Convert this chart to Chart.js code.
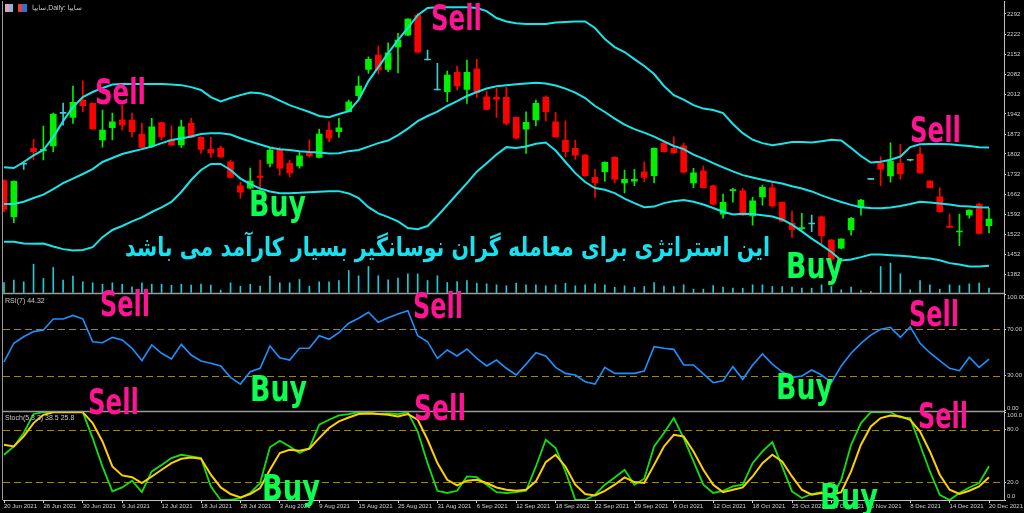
<!DOCTYPE html>
<html><head><meta charset="utf-8">
<script src="https://cdn.jsdelivr.net/npm/chart.js@4.4.1/dist/chart.umd.min.js"></script>
<style>
html,body{margin:0;padding:0;background:#000;width:1024px;height:513px;overflow:hidden}
#wrap{position:relative;width:1024px;height:513px;background:#000}
#c{position:absolute;left:0;top:0}
.ov{position:absolute;white-space:nowrap;transform-origin:0 0;line-height:1}
.sig{font-family:'DejaVu Sans';font-weight:bold;font-size:36px}
.sell{color:#ff1493}
.buy{color:#0cff50}
.fa{font-family:'DejaVu Sans';font-weight:bold;font-size:26px;color:#18e2f0;direction:rtl}
.small{font-family:'Liberation Sans','DejaVu Sans';font-size:7px;color:#c8c8c8}
.ico{position:absolute;top:4px;height:8px}
</style></head>
<body><div id="wrap">
<canvas id="c" width="1024" height="513"></canvas>
<div class="ico" style="left:5px;width:8px;background:linear-gradient(90deg,#e8a0a8 50%,#8fb0e0 50%)"></div>
<div class="ico" style="left:18px;width:9px;background:linear-gradient(90deg,#e04040 50%,#3070d0 50%)"></div>
<div class="ov small" style="left:32px;top:4px">سایپا,Daily:  سایپا</div>
<div class="ov small" style="left:5px;top:297px">RSI(7) 44.32</div>
<div class="ov small" style="left:5px;top:414px">Stoch(5,3,3) 38.5 25.8</div>
<div class="ov fa" data-w="645" style="left:125px;top:234px">این استراتژی برای معامله گران نوسانگیر بسیار کارآمد می باشد</div>
</div>
<script>
// ---------- data ----------
const dates = ["20 Jun 2021","21 Jun 2021","22 Jun 2021","23 Jun 2021","26 Jun 2021","27 Jun 2021","28 Jun 2021","29 Jun 2021","30 Jun 2021","3 Jul 2021",
"4 Jul 2021","5 Jul 2021","6 Jul 2021","7 Jul 2021","10 Jul 2021","11 Jul 2021","12 Jul 2021","13 Jul 2021","14 Jul 2021","17 Jul 2021",
"18 Jul 2021","19 Jul 2021","20 Jul 2021","27 Jul 2021","28 Jul 2021","31 Jul 2021","1 Aug 2021","2 Aug 2021","3 Aug 2021","4 Aug 2021",
"7 Aug 2021","8 Aug 2021","9 Aug 2021","10 Aug 2021","11 Aug 2021","14 Aug 2021","15 Aug 2021","16 Aug 2021","17 Aug 2021","24 Aug 2021",
"25 Aug 2021","28 Aug 2021","29 Aug 2021","30 Aug 2021","31 Aug 2021","1 Sep 2021","4 Sep 2021","5 Sep 2021","6 Sep 2021","7 Sep 2021",
"8 Sep 2021","11 Sep 2021","12 Sep 2021","13 Sep 2021","14 Sep 2021","15 Sep 2021","18 Sep 2021","19 Sep 2021","20 Sep 2021","21 Sep 2021",
"22 Sep 2021","25 Sep 2021","26 Sep 2021","28 Sep 2021","29 Sep 2021","2 Oct 2021","3 Oct 2021","4 Oct 2021","6 Oct 2021","9 Oct 2021",
"10 Oct 2021","11 Oct 2021","12 Oct 2021","13 Oct 2021","16 Oct 2021","17 Oct 2021","18 Oct 2021","19 Oct 2021","20 Oct 2021","24 Oct 2021",
"25 Oct 2021","26 Oct 2021","27 Oct 2021","30 Oct 2021","31 Oct 2021","1 Nov 2021","2 Nov 2021","3 Nov 2021","6 Nov 2021","5 Dec 2021",
"6 Dec 2021","7 Dec 2021","8 Dec 2021","11 Dec 2021","12 Dec 2021","13 Dec 2021","14 Dec 2021","15 Dec 2021","18 Dec 2021","19 Dec 2021",
"20 Dec 2021"];
const open = [1709,1583,1766,1822,1814,1830,1944,1930,1991,1979, 1851,1894,1921,1921,1872,1830,1912,1851,1834,1909,
1860,1818,1823,1775,1691,1682,1725,1769,1818,1769, 1760,1804,1790,1886,1880,1950,2006,2098,2148,2098,
2177,2218,2288,2131,2026,2020,2088,2028,2099,2002, 2000,2000,1930,1889,1921,2000,1915,1851,1822,1798,
1720,1740,1790,1701,1707,1740,1726,1841,1822,1831, 1701,1742,1691,1591,1674,1673,1585,1652,1684,1633,
1559,1541,1557,1582,1501,1472,1536,1615,1713,1769, 1725,1769,1780,1802,1707,1652,1550,1529,1588,1626, 1551];
const high = [1712,1708,1775,1853,1900,1945,1980,2040,2058,1981, 1956,1945,1973,1945,1910,1927,1914,1901,1921,1927,
1862,1860,1830,1781,1705,1753,1781,1825,1825,1781, 1810,1851,1888,1915,1927,1991,2075,2142,2180,2191,
2224,2276,2294,2166,2119,2092,2110,2131,2133,2022, 2032,2035,1932,1950,1991,2006,1948,1918,1851,1800,
1748,1775,1792,1746,1748,1775,1824,1851,1862,1840, 1752,1760,1693,1662,1682,1682,1650,1693,1701,1635,
1602,1594,1588,1585,1503,1506,1580,1643,1713,1792, 1841,1836,1782,1827,1708,1684,1592,1592,1607,1630, 1612];
const low = [1600,1562,1748,1781,1781,1810,1903,1909,1950,1888, 1826,1851,1886,1862,1823,1825,1851,1830,1825,1858,
1804,1790,1788,1718,1647,1680,1676,1757,1728,1722, 1752,1792,1788,1845,1860,1949,1997,2084,2082,2090,
2086,2216,2156,2131,2026,1985,2026,1979,2000,1956, 1930,1903,1855,1804,1900,1918,1860,1792,1783,1724,
1650,1707,1701,1666,1691,1705,1701,1808,1804,1736, 1684,1682,1624,1577,1633,1586,1553,1623,1616,1565,
1510,1536,1530,1481,1424,1470,1518,1588,1713,1691, 1703,1714,1778,1734,1683,1598,1544,1481,1577,1522, 1526];
const close = [1608,1706,1766,1810,1818,1942,1944,1983,1971,1890, 1886,1915,1904,1880,1825,1897,1862,1834,1897,1860,
1818,1806,1792,1720,1668,1707,1720,1816,1752,1736, 1796,1795,1872,1857,1894,1985,2040,2133,2096,2156,
2201,2274,2158,2131,2026,2078,2040,2088,2016,1958, 1994,1909,1857,1913,1979,1950,1862,1810,1798,1726,
1701,1773,1714,1713,1713,1720,1822,1810,1806,1738, 1736,1684,1626,1633,1677,1588,1638,1685,1620,1567,
1538,1542,1557,1516,1434,1504,1577,1641,1713,1749, 1777,1732,1780,1736,1684,1600,1545,1531,1606,1524, 1574];
const volume = [10,12.3,10.7,28.3,14,25,12.3,16.3,10.7,9.7, 8.3,9.7,8.3,5.7,9.7,8.3,8.3,7.3,8.3,7.3,
8.3,7.3,2.3,9.7,6.3,8.3,6.3,16.3,9.7,9.7, 13,6.3,10.7,10.7,12,22,16.7,26,16.7,12.7,
14.3,18.7,18.7,12,16.7,10,11,12,9.3,8.7, 7.7,6.7,9.3,7.7,7.7,6.7,7.7,9.3,6.7,7.7,
8.7,7.7,5.3,6.7,5.3,6,10,6.3,6,7.7, 3.3,3.3,7,5.3,4.3,4.3,7.7,7.7,6,6,
5.3,4.3,4.3,7.7,6,2.7,5.3,2,1,26, 29.3,18.7,2.7,12,7.7,3.3,7.7,7,8.7,9.3, 4.3];
const bbUpper = [1756,1753,1774,1797,1816,1861,1917,1966,2001,2019, 2033,2045,2047,2047,2047,2047,2047,2045,2043,2036,
2026,2001,1986,1998,2008,2017,2015,2005,1989,1973, 1961,1949,1935,1931,1942,1952,1991,2057,2106,2155,
2201,2243,2288,2313,2316,2316,2316,2316,2313,2302, 2278,2266,2260,2257,2257,2257,2262,2264,2266,2266,
2243,2204,2176,2159,2134,2110,2082,2040,2008,1992, 1973,1961,1956,1945,1907,1875,1852,1840,1833,1838,
1844,1844,1842,1847,1852,1849,1823,1795,1772,1775, 1782,1793,1826,1836,1837,1837,1836,1833,1830,1826, 1825];
const bbMiddle = [1627,1627,1635,1648,1660,1679,1700,1716,1732,1749, 1774,1788,1802,1811,1819,1828,1840,1851,1856,1863,
1872,1875,1875,1870,1857,1846,1835,1825,1819,1816, 1812,1809,1807,1804,1805,1812,1816,1828,1840,1849,
1868,1891,1917,1935,1950,1970,1987,2005,2019,2031, 2039,2043,2046,2049,2051,2049,2042,2031,2017,1998,
1970,1949,1926,1905,1889,1877,1863,1846,1830,1819, 1800,1786,1770,1755,1741,1728,1720,1712,1705,1699,
1689,1681,1671,1657,1645,1634,1624,1616,1613,1612, 1615,1620,1627,1635,1632,1629,1625,1620,1618,1616, 1615];
const bbLower = [1495,1495,1489,1488,1489,1478,1469,1464,1466,1476, 1511,1536,1550,1566,1580,1599,1615,1634,1669,1711,
1746,1767,1767,1746,1716,1697,1681,1671,1665,1665, 1666,1668,1670,1672,1672,1664,1648,1616,1594,1581,
1566,1543,1539,1550,1585,1623,1662,1700,1740,1770, 1800,1826,1823,1828,1838,1842,1814,1774,1735,1704,
1683,1677,1665,1646,1630,1616,1618,1630,1637,1641, 1635,1625,1613,1600,1590,1593,1592,1588,1583,1573,
1555,1531,1506,1483,1459,1429,1433,1441,1450,1450, 1448,1446,1443,1439,1436,1430,1420,1415,1408,1408, 1411];
const rsi = [42,58,63.6,68,69.4,78.9,78.9,82,79,59.3, 58.4,63,60.8,53.6,43,56.5,49.3,44.4,57,47.8,
42.7,40.7,38.4,28.6,22.8,33.4,36.4,55.6,45.5,43.5, 53.6,53.6,64.5,61.4,67.1,75.2,79.5,84.7,76,80,
83.2,86,64.5,59.3,45,52.2,47,53,45,38.4, 43.5,36.4,30.6,40,49.8,47,37.2,32,30.6,24.8,
22.8,37.2,32,32,32,34,55,53.6,52.7,39.2, 39.2,31.5,24,25.7,37.8,26.9,39.2,48.7,40,33.4,
28.6,29.7,34.9,30.6,24,38.4,49.3,57.9,65,70, 71.7,63,72.2,57.9,49.8,43,36.4,34.3,45.9,37.2, 44.32];
const stochK = [51.5,61,76.3,98,100,100,100,100,100,70.5, 38,9.8,14.3,22,9,32.5,40,47.8,51.5,49.6,
47.8,15.4,0,0,2.2,8,19.3,60,67.5,61, 53.5,59.2,85.7,91.4,96.3,97.9,100,100,97.9,98.6,
97.9,100,78,42,10.5,8,10.5,26.8,26,17.4, 9,8,9,10.5,38.2,68.6,59.2,32.5,0.3,0,
6,17.4,25.7,34.5,17.4,24.2,61,76.3,93.3,70.5, 44,17.4,8,10.5,15.4,17.4,42,55.3,66,38.2,
9.8,2.2,6.8,9,2.9,23,62.9,87.6,100,100, 100,94,93.3,62.9,32.5,6,0,8,14.3,19.3, 38.5];
const stochD = [63,61,72.4,87.6,97,100,100,100,100,87.6, 66.7,38.2,28,26,19.3,26.8,34.5,42,47,48.5,
47,28.8,14.3,6.8,2.9,6.8,13.6,34.5,53.5,57.2, 56,58.4,70.5,82,89.5,94,97.9,98.6,97.9,97,
95.2,97.9,91.4,68.6,42,23,16.6,22,23,19.3, 14.3,11.7,10.5,11.7,21.2,43.2,51.5,38.2,17.4,6.8,
5.2,10.5,17.4,25.7,20.4,19.3,40,61,74.3,72.4, 55.3,34.5,17.4,9,11.7,14.3,26.8,42,51.5,44,
26.8,11.7,6,8,6,9,32.5,62.9,83.8,93.3, 96.3,95.2,91.4,78,55.3,28.8,11.7,6.8,10.5,15.4, 25.8];
const priceTicks = [2292,2222,2152,2082,2012,1942,1872,1802,1732,1662,1592,1522,1452,1382];
const rsiTicks = [100,70,30,0];
const rsiLevels = [70,30];
const stochTicks = [100,80,20,0];
const stochLevels = [80,20];
const dateTickStep = 4;

// ---------- layout constants ----------
const PAD_L = 3, TOP = 1, AXIS_W = 20, XAXIS_H = 13;
const MAIN_BOTTOM = 293.5, RSI_BOTTOM = 411.5, PLOT_BOTTOM = 500;
const BAR_PX = 9.85, FIRST_BAR_X = 4;
const plotW = 1024 - AXIS_W - PAD_L;
const xMin = -(FIRST_BAR_X - PAD_L) / BAR_PX;
const xMax = xMin + plotW / BAR_PX;
const VOL_BASE = 292.5;

const GREEN = '#00f000', RED = '#ff0000', DOJI = '#45c8c8';
const candleColor = open.map((o, i) => close[i] > o ? GREEN : (close[i] < o ? RED : DOJI));
const idx = (arr) => arr.map((v, i) => ({x: i, y: v}));

const axisFont = {family: 'Liberation Sans', size: 6};
const axisColor = '#d0d0d0';
function yAxis(ticksArr, fmt, extra) {
  return Object.assign({
    type: 'linear', position: 'right', stack: 'panes', beginAtZero: false,
    grid: {drawOnChartArea: false, drawTicks: true, tickLength: 2, color: axisColor},
    border: {display: true, color: '#c0c0c0', width: 1},
    ticks: {display: false, autoSkip: false, callback: fmt},
    afterBuildTicks: s => { s.ticks = ticksArr.map(v => ({value: v})); },
    afterFit: s => { s.width = AXIS_W; s.paddingTop = 0; s.paddingBottom = 0; }
  }, extra);
}

const panelPlugin = {
  id: 'panels',
  beforeDatasetsDraw(chart) {
    const {ctx, chartArea} = chart;
    ctx.save();
    ctx.strokeStyle = '#a08800';
    ctx.lineWidth = 1;
    ctx.setLineDash([7, 4]);
    const draw = (scale, lv) => lv.forEach(v => {
      const y = Math.round(scale.getPixelForValue(v)) + 0.5;
      ctx.beginPath(); ctx.moveTo(chartArea.left, y); ctx.lineTo(chartArea.right, y); ctx.stroke();
    });
    draw(chart.scales.yRsi, rsiLevels);
    draw(chart.scales.yStoch, stochLevels);
    ctx.restore();
  },
  afterDraw(chart) {
    const {ctx, chartArea} = chart;
    ctx.save();
    ctx.strokeStyle = '#9a9a9a';
    ctx.lineWidth = 1.5;
    [chart.scales.y.bottom, chart.scales.yRsi.bottom].forEach(y => {
      ctx.beginPath(); ctx.moveTo(chartArea.left - 1, y); ctx.lineTo(chartArea.right, y); ctx.stroke();
    });
    ctx.lineWidth = 1;
    ctx.beginPath(); ctx.moveTo(chartArea.left - 0.5, chartArea.top); ctx.lineTo(chartArea.left - 0.5, chartArea.bottom); ctx.stroke();
    // right-axis labels, kept inside each pane like the terminal does
    ctx.fillStyle = axisColor;
    ctx.font = '6px "Liberation Sans"';
    ctx.textBaseline = 'middle';
    ctx.textAlign = 'left';
    ['y', 'yRsi', 'yStoch'].forEach(id => {
      const s = chart.scales[id];
      const fmt = s.options.ticks.callback;
      s.ticks.forEach(t => {
        let py = s.getPixelForValue(t.value);
        py = Math.min(Math.max(py, s.top + 3.5), s.bottom - 3.5);
        ctx.fillText(fmt(t.value), s.left + 3, py);
      });
    });
    ctx.restore();
  }
};

new Chart(document.getElementById('c'), {
  type: 'bar',
  data: {
    datasets: [
      {type: 'line', data: idx(bbUpper), yAxisID: 'y', borderColor: '#18e4ea', borderWidth: 2, pointRadius: 0, order: 1},
      {type: 'line', data: idx(bbMiddle), yAxisID: 'y', borderColor: '#18e4ea', borderWidth: 2, pointRadius: 0, order: 1},
      {type: 'line', data: idx(bbLower), yAxisID: 'y', borderColor: '#18e4ea', borderWidth: 2, pointRadius: 0, order: 1},
      {data: open.map((o, i) => ({x: i, y: [o, close[i]]})), yAxisID: 'y', backgroundColor: candleColor,
        barThickness: 6, minBarLength: 1, grouped: false, order: 3},
      {data: low.map((l, i) => ({x: i, y: [l, high[i]]})), yAxisID: 'y', backgroundColor: candleColor,
        barThickness: 1, grouped: false, order: 4},
      {data: idx(volume), yAxisID: 'yVol', backgroundColor: '#22c8d2', barThickness: 1, grouped: false, order: 5},
      {type: 'line', data: idx(rsi), yAxisID: 'yRsi', borderColor: '#1e90ff', borderWidth: 1.6, pointRadius: 0, order: 1},
      {type: 'line', data: idx(stochK), yAxisID: 'yStoch', borderColor: '#10e010', borderWidth: 1.8, pointRadius: 0, order: 2},
      {type: 'line', data: idx(stochD), yAxisID: 'yStoch', borderColor: '#ffd000', borderWidth: 2, pointRadius: 0, order: 1}
    ]
  },
  options: {
    responsive: false, animation: false, events: [], devicePixelRatio: 1,
    layout: {padding: {left: PAD_L, top: TOP, right: 0, bottom: 0}},
    plugins: {legend: {display: false}, tooltip: {enabled: false}},
    scales: {
      x: {
        type: 'linear', min: xMin, max: xMax, offset: false, position: 'bottom',
        grid: {drawOnChartArea: false, drawTicks: true, tickLength: 3, color: axisColor, offset: false},
        border: {display: true, color: '#c0c0c0'},
        ticks: {color: axisColor, font: axisFont, padding: 0, autoSkip: false, maxRotation: 0, align: 'start',
          callback: v => dates[v]},
        afterBuildTicks: s => { s.ticks = dates.map((d, i) => i).filter(i => i % dateTickStep === 0).map(v => ({value: v})); },
        afterFit: s => { s.height = XAXIS_H; s.paddingLeft = 0; s.paddingRight = 0; }
      },
      y: yAxis(priceTicks, v => String(v), {stackWeight: MAIN_BOTTOM - TOP, min: 2341 - 3.5 * MAIN_BOTTOM, max: 2341 - 3.5 * TOP}),
      yRsi: yAxis(rsiTicks, v => v.toFixed(2), {stackWeight: RSI_BOTTOM - MAIN_BOTTOM, min: -0.86, max: 100.86}),
      yStoch: yAxis(stochTicks, v => v.toFixed(1), {stackWeight: PLOT_BOTTOM - RSI_BOTTOM, min: 0, max: 100.8}),
      yVol: {type: 'linear', display: false, position: 'right', min: -(PLOT_BOTTOM - VOL_BASE), max: VOL_BASE - TOP}
    }
  },
  plugins: [panelPlugin]
});

// ---------- signal labels (overlay text) ----------
const signalPos = [
  ['Sell', 95, 78, 51], ['Sell', 431, 4, 51], ['Sell', 910, 116, 51],
  ['Sell', 100, 290, 50], ['Sell', 413, 292, 50], ['Sell', 909, 300, 50],
  ['Sell', 88, 388, 51], ['Sell', 414, 394, 52], ['Sell', 918, 402, 50],
  ['Buy', 249, 190, 57], ['Buy', 786, 252, 57], ['Buy', 250, 375, 57],
  ['Buy', 776, 373, 57], ['Buy', 262, 474, 58], ['Buy', 820, 483, 58]
];
const wrap = document.getElementById('wrap');
signalPos.forEach(([t, x, capTop, w]) => {
  const d = document.createElement('div');
  d.className = 'ov sig ' + (t === 'Sell' ? 'sell' : 'buy');
  d.textContent = t;
  d.dataset.w = w;
  d.style.left = x + 'px';
  d.style.top = (capTop - 0.117 * 36) + 'px';
  wrap.appendChild(d);
});
function fit() {
  document.querySelectorAll('[data-w]').forEach(el => {
    el.style.transform = 'none';
    const w = el.getBoundingClientRect().width;
    el.style.transform = 'scaleX(' + (+el.dataset.w / w) + ')';
  });
}
fit();
if (document.fonts && document.fonts.ready) document.fonts.ready.then(fit);
</script>
</body></html>
